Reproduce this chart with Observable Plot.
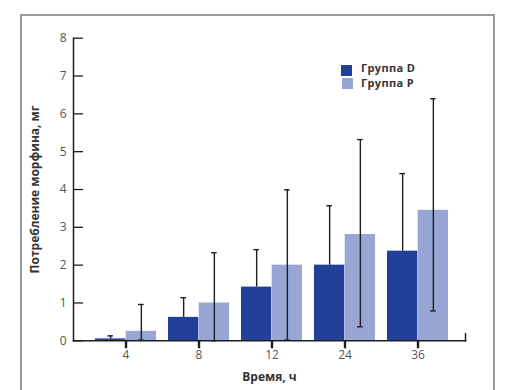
<!DOCTYPE html>
<html><head><meta charset="utf-8">
<script src="https://cdn.jsdelivr.net/npm/d3@7"></script>
<script src="https://cdn.jsdelivr.net/npm/@observablehq/plot@0.6"></script>
<style>
body{margin:0;background:#fff;}
#wrap{position:relative;width:507px;height:390px;overflow:hidden;font-family:"Open Sans",sans-serif;}
#wrap svg{position:absolute;left:0;top:0;}
#box{position:absolute;left:20px;top:14px;width:471px;height:420px;border:2px solid #9a9a9a;z-index:2;pointer-events:none;}
.lg{position:absolute;z-index:3;font:bold 11px/11px "Open Sans",sans-serif;letter-spacing:0.35px;color:#333;white-space:nowrap;}
.sw{position:absolute;z-index:3;width:11px;height:11px;}
g[aria-label="y-axis label"], g[aria-label="x-axis label"]{font-weight:bold;fill:#333;}
</style>
</head><body>
<div id="wrap"><div id="box"></div></div>
<script>
const hours = ["4", "8", "12", "24", "36"];
const groupD = [0.05, 0.62, 1.42, 2.0, 2.37];
const groupDHigh = [0.13, 1.14, 2.41, 3.57, 4.42];
const groupP = [0.25, 1.0, 2.0, 2.81, 3.45];
const groupPLow = [0.02, 0.0, 0.02, 0.37, 0.79];
const groupPHigh = [0.96, 2.33, 3.99, 5.32, 6.4];
const yTicks = [0, 1, 2, 3, 4, 5, 6, 7, 8];
const seriesNames = ["Группа D", "Группа P"];
const seriesColors = ["#22409a", "#99a6d5"];
const xLabel = "Время, ч";
const yLabel = "Потребление морфина, мг";

const rows = hours.map((h, i) => ({h, d: groupD[i], dHi: groupDHigh[i], p: groupP[i], pLo: groupPLow[i], pHi: groupPHigh[i]}));

const W = 507, H = 390, mL = 73, mR = 42, mT = 37.7, mB = 49.7;
const xOpts = {type: "band", domain: hours, paddingInner: 0.17, paddingOuter: 0.234, align: 0.55};
const bw = Plot.scale({x: {...xOpts, range: [mL, W - mR]}}).bandwidth;
const capHalf = 3;
const ink = "#1e1e1e";

const chart = Plot.plot({
  width: W, height: H,
  marginLeft: mL, marginRight: mR, marginTop: mT, marginBottom: mB,
  style: {fontFamily: "'Open Sans', sans-serif", fontSize: "12px", color: "#444", background: "white"},
  x: {...xOpts},
  y: {domain: [0, 8]},
  marks: [
    Plot.barY(rows, {x: "h", y: "d", fill: seriesColors[0], insetRight: bw / 2}),
    Plot.barY(rows, {x: "h", y: "p", fill: seriesColors[1], insetLeft: bw / 2}),
    Plot.ruleX(rows, {x: "h", y1: "d", y2: "dHi", dx: -bw / 4, stroke: ink, strokeWidth: 1.4}),
    Plot.tickY(rows, {x: "h", y: "dHi", insetLeft: bw / 4 - capHalf, insetRight: 3 * bw / 4 - capHalf, stroke: ink, strokeWidth: 1.4}),
    Plot.ruleX(rows, {x: "h", y1: "pLo", y2: "pHi", dx: bw / 4, stroke: ink, strokeWidth: 1.4}),
    Plot.tickY(rows, {x: "h", y: "pHi", insetLeft: 3 * bw / 4 - capHalf, insetRight: bw / 4 - capHalf, stroke: ink, strokeWidth: 1.4}),
    Plot.tickY(rows, {x: "h", y: "pLo", insetLeft: 3 * bw / 4 - capHalf, insetRight: bw / 4 - capHalf, stroke: ink, strokeWidth: 1.4}),
    Plot.tickY(yTicks, {y: d => d, insetRight: (W - mL - mR) - 10, stroke: ink, strokeWidth: 1.3}),
    Plot.frame({anchor: "left", stroke: ink, strokeWidth: 1.5}),
    Plot.frame({anchor: "bottom", stroke: ink, strokeWidth: 1.5}),
    Plot.frame({anchor: "right", stroke: ink, strokeWidth: 1.5, insetTop: (H - mT - mB) - 7}),
    Plot.axisY({ticks: yTicks, tickSize: 0, tickPadding: 7, label: yLabel, labelAnchor: "center", labelOffset: 43, labelArrow: "none", fill: "#555"}),
    Plot.axisX({tickSize: 8, strokeWidth: 2.4, tickPadding: 2, stroke: ink, label: xLabel, labelAnchor: "center", labelOffset: 40, labelArrow: "none", fill: "#555"})
  ]
});

const wrap = document.getElementById("wrap");
wrap.appendChild(chart);

const legendPos = [{sx: 341, sy: 65, tx: 361, ty: 62.2}, {sx: 342, sy: 78, tx: 361, ty: 77.2}];
seriesNames.forEach((name, i) => {
  const sw = document.createElement("div");
  sw.className = "sw";
  sw.style.left = legendPos[i].sx + "px";
  sw.style.top = legendPos[i].sy + "px";
  sw.style.background = seriesColors[i];
  wrap.appendChild(sw);
  const t = document.createElement("div");
  t.className = "lg";
  t.style.left = legendPos[i].tx + "px";
  t.style.top = legendPos[i].ty + "px";
  t.textContent = name;
  wrap.appendChild(t);
});
</script>
</body></html>
